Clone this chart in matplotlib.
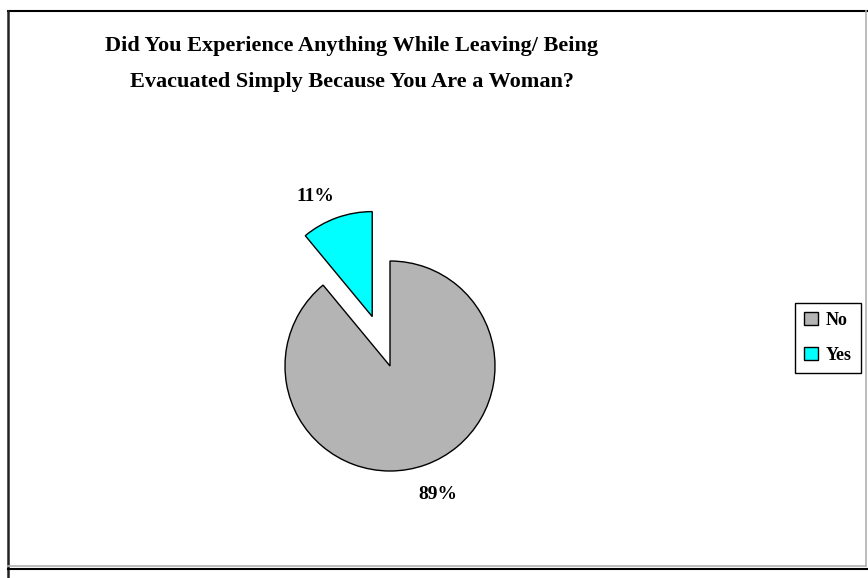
import matplotlib
matplotlib.use("Agg")
import matplotlib.pyplot as plt
from matplotlib.patches import Patch
from matplotlib.lines import Line2D

categories = ["No", "Yes"]
values = [89, 11]
colors = ["#b4b4b4", "#00ffff"]
title = "Did You Experience Anything While Leaving/ Being\nEvacuated Simply Because You Are a Woman?"

W, H = 868, 578
fig = plt.figure(figsize=(W / 100, H / 100), dpi=100)
fig.patch.set_facecolor("white")

def fx(px):
    return px / W

def fy(py):
    return 1 - py / H

# frame lines (screenshot of chart area)
fig.add_artist(Line2D([fx(8), fx(867)], [fy(11), fy(11)], color="black", lw=1.5))
fig.add_artist(Line2D([fx(8), fx(8)], [fy(11), fy(578)], color="#222222", lw=1.8))
fig.add_artist(Line2D([fx(866), fx(866)], [fy(11), fy(566)], color="#b0b0b0", lw=1.2))
fig.add_artist(Line2D([fx(8), fx(866)], [fy(566), fy(566)], color="#b0b0b0", lw=1.2))
fig.add_artist(Line2D([fx(8), fx(868)], [fy(569), fy(569)], color="black", lw=1.5))

# pie axes
cx, cy, r = 390, 366, 105
half = 150
ax = fig.add_axes([fx(cx - half), fy(cy + half), (2 * half) / W, (2 * half) / H])
lim = half / r
wedges, texts, autotexts = ax.pie(
    values,
    colors=colors,
    startangle=90,
    counterclock=False,
    explode=[0, 0.5],
    autopct=lambda p: f"{p:.0f}%",
    pctdistance=1.3,
    wedgeprops=dict(edgecolor="black", linewidth=1.0),
    textprops=dict(family="Liberation Serif", fontweight="bold", fontsize=14),
)
# nudge the labels slightly as in the reference
x, y = autotexts[1].get_position()
autotexts[1].set_position((x - 0.1, y - 0.08))
x, y = autotexts[0].get_position()
autotexts[0].set_position((x + 0.02, y))
ax.set_xlim(-lim, lim)
ax.set_ylim(-lim, lim)
ax.set_aspect("equal")
ax.axis("off")

fig.text(fx(352), fy(64), title, ha="center", va="center",
         family="Liberation Serif", fontweight="bold", fontsize=16, linespacing=2.0)

handles = [Patch(facecolor=c, edgecolor="black", linewidth=1.0) for c in colors]
leg = fig.legend(handles, categories, loc="center", bbox_to_anchor=(fx(828), fy(338)),
                 frameon=True, fancybox=False, edgecolor="black", framealpha=1,
                 prop=dict(family="Liberation Serif", weight="bold", size=13),
                 handlelength=0.75, handleheight=0.75, handletextpad=0.45,
                 borderpad=0.5, labelspacing=1.0, borderaxespad=0)
leg.get_frame().set_linewidth(1.0)

fig.savefig("out.png", dpi=100)
